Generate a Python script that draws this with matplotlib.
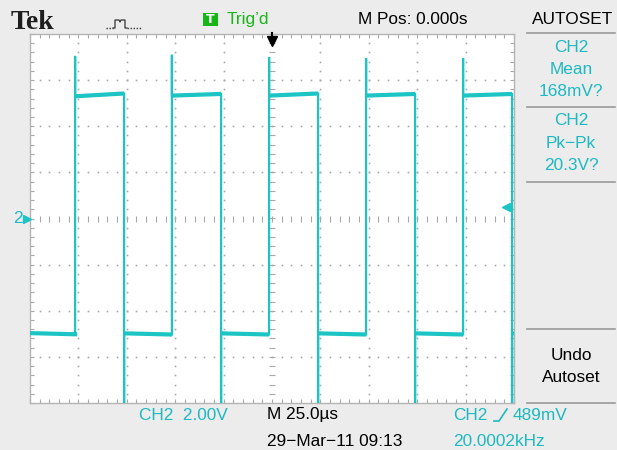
import matplotlib
matplotlib.use('Agg')
import matplotlib.pyplot as plt
from matplotlib import font_manager
from matplotlib.lines import Line2D
from matplotlib.patches import Rectangle
from matplotlib.ticker import MultipleLocator
from matplotlib.transforms import blended_transform_factory
import numpy as np

# scope settings
time_per_div = 25.0   # us / div
volts_per_div = 2.0   # V / div
n_xdiv = 10
n_ydiv = 8
trig_level = 0.489    # V

# edges of the square wave (us)
rise_times = [-101.7, -51.7, -1.5, 48.6, 98.7]
fall_times = [-76.4, -26.3, 23.8, 73.9, 124.0]
overshoot = [7.05, 7.1, 7.0, 6.95, 6.95]      # spike at each rising edge (V)
undershoot = [-9.0, -9.0, -9.0, -9.0, -9.0]   # spike at each falling edge, off screen
high_start = [5.30, 5.33, 5.33, 5.33, 5.33]
high_end = [5.42, 5.40, 5.42, 5.40, 5.40]
# low segments: before first rise, then after every fall
low_start = [-4.97, -4.98, -4.98, -4.98, -4.98, -4.98]
low_end = [-5.02, -5.03, -5.03, -5.03, -5.03, -5.0]

# texts
top_texts = ["Tek", "Trig\u2019d", "M Pos: 0.000s", "AUTOSET"]
menu_mean = ["CH2", "Mean", "168mV?"]
menu_pkpk = ["CH2", "Pk\u2212Pk", "20.3V?"]
menu_undo = ["Undo", "Autoset"]
ch_scale = "CH2  2.00V"
time_scale = "M 25.0\u00b5s"
date_text = "29\u2212Mar\u221211 09:13"
trig_src = "CH2"
trig_val = "489mV"
freq_text = "20.0002kHz"

CYAN = '#1cc4c4'
CYAN_TXT = '#1db9c1'
GREEN = '#16b616'
GRID = '#a8a8a8'
BG = '#ececec'


def pick_font(names):
    for n in names:
        try:
            font_manager.findfont(font_manager.FontProperties(family=n), fallback_to_default=False)
            return n
        except Exception:
            pass
    return 'DejaVu Sans'


narrow = pick_font(['Liberation Sans Narrow', 'Liberation Sans', 'DejaVu Sans'])
serif = pick_font(['Liberation Serif', 'DejaVu Serif'])
FS = {'Liberation Sans Narrow': 14.5, 'Liberation Sans': 12.4}.get(narrow, 11.5)

W, H = 617, 450
fig = plt.figure(figsize=(W / 100, H / 100), dpi=100)
fig.patch.set_facecolor(BG)


def fx(px):
    return px / W


def fy(py):
    return 1 - py / H


# screen
ax = fig.add_axes([fx(30), fy(403), fx(514) - fx(30), fy(34) - fy(403)])
ax.set_facecolor('white')
xmax = time_per_div * n_xdiv / 2
ymax = volts_per_div * n_ydiv / 2
ax.set_xlim(-xmax, xmax)
ax.set_ylim(-ymax, ymax)
for s in ax.spines.values():
    s.set_color('#b4b4b4')
    s.set_linewidth(1.0)
ax.xaxis.set_major_locator(MultipleLocator(time_per_div))
ax.xaxis.set_minor_locator(MultipleLocator(time_per_div / 5))
ax.yaxis.set_major_locator(MultipleLocator(volts_per_div))
ax.yaxis.set_minor_locator(MultipleLocator(volts_per_div / 5))
ax.tick_params(which='both', direction='in', length=3, width=0.8, color=GRID,
               top=True, right=True, labelbottom=False, labelleft=False)

# dotted graticule
xs_minor = np.arange(-xmax, xmax + 0.01, time_per_div / 5)
ys_minor = np.arange(-ymax, ymax + 0.01, volts_per_div / 5)
for k in range(1, n_xdiv):
    xv = -xmax + k * time_per_div
    if abs(xv) < 1e-6:
        continue
    ax.plot(np.full(len(ys_minor) - 2, xv), ys_minor[1:-1], ls='none', marker='s',
            ms=1.2, mew=0, color=GRID, zorder=1)
for k in range(1, n_ydiv):
    yv = -ymax + k * volts_per_div
    if abs(yv) < 1e-6:
        continue
    ax.plot(xs_minor[1:-1], np.full(len(xs_minor) - 2, yv), ls='none', marker='s',
            ms=1.2, mew=0, color=GRID, zorder=1)
# centre lines carry small ticks
ax.plot(xs_minor[1:-1], np.zeros(len(xs_minor) - 2), ls='none', marker='|', ms=4,
        mew=0.8, color=GRID, zorder=1)
ax.plot(np.zeros(len(ys_minor) - 2), ys_minor[1:-1], ls='none', marker='_', ms=4,
        mew=0.8, color=GRID, zorder=1)

# build trace
t = [-xmax]
v = [low_start[0]]
for i in range(len(rise_times)):
    t += [rise_times[i], rise_times[i], rise_times[i], rise_times[i] + 0.3]
    v += [low_end[i], overshoot[i], high_start[i], high_start[i]]
    t += [fall_times[i], fall_times[i], fall_times[i]]
    v += [high_end[i], undershoot[i], low_start[i + 1]]
t.append(xmax)
v.append(low_end[-1])
ax.plot(t, v, color=CYAN, lw=1.6, solid_joinstyle='miter', zorder=3)

# flat parts look thicker on the scope because of the noise
ax.plot([-xmax, rise_times[0]], [low_start[0], low_end[0]], color=CYAN, lw=3.0, zorder=3)
for i in range(len(rise_times)):
    ax.plot([rise_times[i] + 0.3, fall_times[i]], [high_start[i], high_end[i]],
            color=CYAN, lw=3.0, solid_capstyle='butt', zorder=3)
    t_end = rise_times[i + 1] if i + 1 < len(rise_times) else xmax
    ax.plot([fall_times[i], t_end], [low_start[i + 1], low_end[i + 1]],
            color=CYAN, lw=3.0, solid_capstyle='butt', zorder=3)

# trigger position arrow
ax.plot([0.5], [0.982], transform=ax.transAxes, marker='v', ms=7, color='black',
        clip_on=False, zorder=5)
ax.add_line(Line2D([0.5, 0.5], [1.002, 0.985], transform=ax.transAxes, color='black',
                   lw=1.5, clip_on=False, zorder=5))

# trigger level marker on the right
tr = blended_transform_factory(ax.transAxes, ax.transData)
ax.plot([0.983], [trig_level], transform=tr, marker='<', ms=6, color=CYAN, clip_on=False, zorder=5)
ax.add_line(Line2D([0.983, 0.996], [trig_level, trig_level], transform=tr, color=CYAN, lw=1.2,
                   clip_on=False, zorder=5))

# channel ground marker on the left
tl = blended_transform_factory(fig.transFigure, ax.transData)
fig.text(fx(18), 0, "2", transform=tl, color=CYAN_TXT, fontsize=FS, family=narrow,
         ha='center', va='center')
fig.add_artist(Line2D([fx(26.5)], [0], transform=tl, marker='>', ms=6, color=CYAN))

# top bar
fig.text(fx(11), fy(29), top_texts[0], family=serif, weight='bold', fontsize=20,
         ha='left', va='baseline', color='#1e1e1e')
# pulse icon
fig.add_artist(Line2D([fx(106), fx(113)], [fy(28), fy(28)], ls=(0, (1, 1.2)), lw=1, color='#333333'))
fig.add_artist(Line2D([fx(113), fx(115), fx(115), fx(119), fx(120), fx(121), fx(125), fx(125), fx(127)],
                      [fy(28), fy(28), fy(20), fy(20), fy(22), fy(20), fy(20), fy(28), fy(28)],
                      lw=0.9, color='#333333'))
fig.add_artist(Line2D([fx(127), fx(141)], [fy(28), fy(28)], ls=(0, (1, 1.2)), lw=1, color='#333333'))
fig.add_artist(Rectangle((fx(203), fy(26)), fx(218) - fx(203), fy(13) - fy(26),
                         transform=fig.transFigure, facecolor=GREEN, edgecolor='none'))
fig.text(fx(210.5), fy(19.5), "T", family='DejaVu Sans', weight='bold', fontsize=9,
         color='white', ha='center', va='center')
fig.text(fx(227), fy(19.5), top_texts[1], family=narrow, fontsize=FS, color=GREEN,
         ha='left', va='center')
fig.text(fx(358), fy(19.5), top_texts[2], family=narrow, fontsize=FS, color='black',
         ha='left', va='center')
fig.text(fx(573), fy(19.5), top_texts[3], family=narrow, fontsize=FS, color='black',
         ha='center', va='center')

# right menu
for yy in [33, 107, 182, 329, 403]:
    fig.add_artist(Line2D([fx(527), fx(615)], [fy(yy), fy(yy)], color='#9a9a9a', lw=1.2))
for txt, yy in zip(menu_mean, [47, 69, 91]):
    fig.text(fx(571), fy(yy), txt, family=narrow, fontsize=FS, color=CYAN_TXT, ha='center', va='center')
for txt, yy in zip(menu_pkpk, [120.5, 143, 165.5]):
    fig.text(fx(571), fy(yy), txt, family=narrow, fontsize=FS, color=CYAN_TXT, ha='center', va='center')
for txt, yy in zip(menu_undo, [355, 377]):
    fig.text(fx(571), fy(yy), txt, family=narrow, fontsize=FS, color='black', ha='center', va='center')

# bottom readouts
fig.text(fx(139), fy(415), ch_scale, family=narrow, fontsize=FS, color=CYAN_TXT, ha='left', va='center')
fig.text(fx(267), fy(415), time_scale, family=narrow, fontsize=FS, color='black', ha='left', va='center')
fig.text(fx(267), fy(442), date_text, family=narrow, fontsize=FS, color='black', ha='left', va='center')
fig.text(fx(453), fy(415), trig_src, family=narrow, fontsize=FS, color=CYAN_TXT, ha='left', va='center')
fig.add_artist(Line2D([fx(494), fx(499), fx(507)], [fy(421), fy(421), fy(409)], color=CYAN_TXT, lw=1.2))
fig.text(fx(513), fy(415), trig_val, family=narrow, fontsize=FS, color=CYAN_TXT, ha='left', va='center')
fig.text(fx(453), fy(442), freq_text, family=narrow, fontsize=FS, color=CYAN_TXT, ha='left', va='center')

fig.savefig('out.png', dpi=100, facecolor=BG)
